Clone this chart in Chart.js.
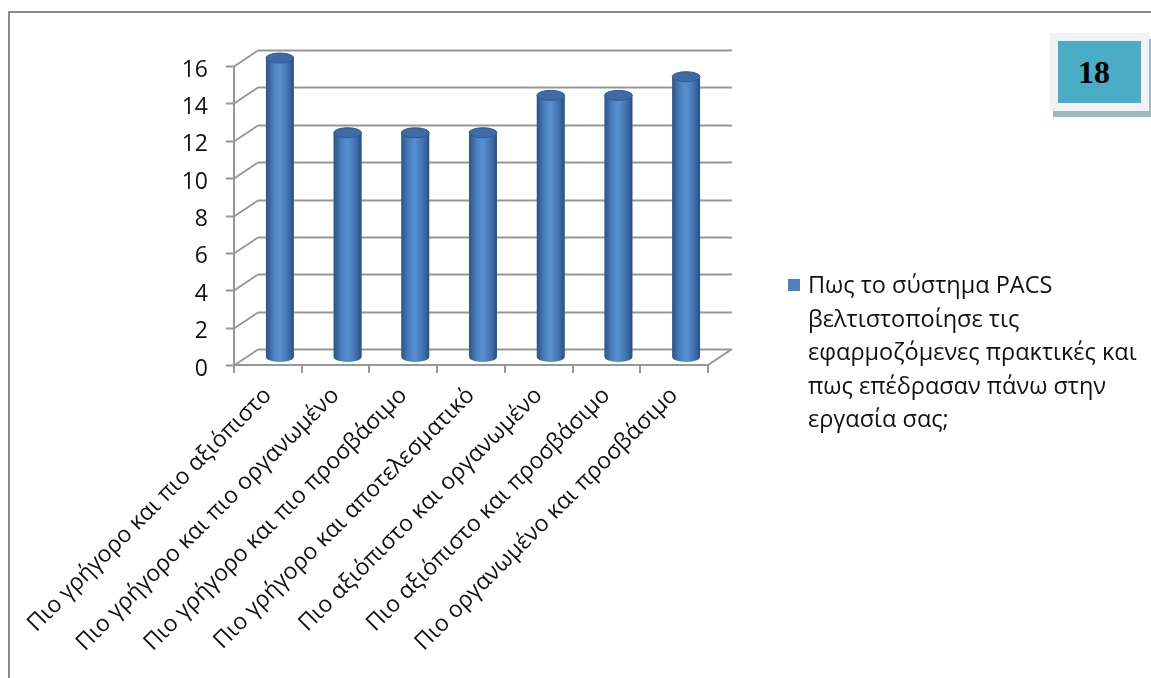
<!DOCTYPE html>
<html lang="el">
<head>
  <meta charset="utf-8">
  <title>PACS – βελτιστοποίηση πρακτικών</title>
  <script src="https://cdn.jsdelivr.net/npm/chart.js@4.4.0/dist/chart.umd.min.js"></script>
  <style>
    body{margin:0;background:#fff;overflow:hidden;}
    #wrap{position:relative;width:1151px;height:678px;}
    #frame{position:absolute;left:8px;top:11px;width:1200px;height:700px;
           border-left:2px solid #8a8a8a;border-top:2px solid #8a8a8a;}
    #badge{position:absolute;left:1050px;top:33px;width:99px;height:78px;
           background:#f2f2f2;box-shadow:3px 6px 0 #9bb8c0;}
    #badge div{position:absolute;left:8px;top:8px;width:83px;height:62px;background:#4bacc6;
           font:bold 32px "Liberation Serif","Times New Roman",serif;color:#000;
           line-height:62px;padding-left:20px;box-sizing:border-box;}
    canvas{position:absolute;left:0;top:0;}
  </style>
</head>
<body>
<div id="wrap">
  <div id="frame"></div>
  <canvas id="chart" width="1151" height="678"></canvas>
  <div id="badge"><div>18</div></div>
</div>

<script>
/* ---------------- data ---------------- */
const categories = [
  'Πιο γρήγορο και πιο αξιόπιστο',
  'Πιο γρήγορο και πιο οργανωμένο',
  'Πιο γρήγορο και πιο προσβάσιμο',
  'Πιο γρήγορο και αποτελεσματικό',
  'Πιο αξιόπιστο και οργανωμένο',
  'Πιο αξιόπιστο και προσβάσιμο',
  'Πιο οργανωμένο και προσβάσιμο'
];
const values = [16, 12, 12, 12, 14, 14, 15];
const yTicks = [0, 2, 4, 6, 8, 10, 12, 14, 16];
const seriesLines = [
  'Πως το σύστημα PACS',
  'βελτιστοποίησε τις',
  'εφαρμοζόμενες πρακτικές και',
  'πως επέδρασαν πάνω στην',
  'εργασία σας;'
];

/* ---------------- look ---------------- */
const FONT = '"Open Sans", "Noto Sans", sans-serif';
const TEXT = '#111';
const GRID = '#979797';
const DX = 24, DY = 16;          // depth of the 3d box

/* grid, side wall and floor drawn from the scales */
const box3d = {
  id: 'box3d',
  beforeDatasetsDraw(chart) {
    const {ctx, chartArea: a, scales: {x, y}} = chart;
    ctx.save();
    ctx.strokeStyle = GRID;
    ctx.lineWidth = 2;
    ctx.beginPath();
    yTicks.forEach(v => {
      const py = Math.round(y.getPixelForValue(v)) + 0.5;
      // back wall line
      ctx.moveTo(a.left + DX, py - DY);
      ctx.lineTo(a.right + DX, py - DY);
      // side wall diagonal
      ctx.moveTo(a.left, py);
      ctx.lineTo(a.left + DX, py - DY);
      // tick on front axis
      ctx.moveTo(a.left - 8, py);
      ctx.lineTo(a.left, py);
    });
    // front axis
    ctx.moveTo(a.left, y.getPixelForValue(yTicks[yTicks.length - 1]));
    ctx.lineTo(a.left, a.bottom);
    // floor front edge + right edge
    ctx.moveTo(a.left, a.bottom);
    ctx.lineTo(a.right, a.bottom);
    ctx.lineTo(a.right + DX, a.bottom - DY);
    // category ticks
    const step = (a.right - a.left) / categories.length;
    for (let i = 0; i <= categories.length; i++) {
      const px = Math.round(a.left + i * step);
      ctx.moveTo(px, a.bottom);
      ctx.lineTo(px, a.bottom + 8);
    }
    ctx.stroke();
    ctx.restore();

    // bars sit half way into the box
    ctx.save();
    ctx.translate(DX / 2, -DY / 2);
  },
  afterDatasetsDraw(chart) {
    const {ctx} = chart;
    chart.getDatasetMeta(0).data.forEach(el => {
      const {x, y, base, width} = el.getProps(['x', 'y', 'base', 'width'], true);
      const rx = width / 2, ry = 5;
      const g = ctx.createLinearGradient(x - rx, 0, x + rx, 0);
      g.addColorStop(0, '#2b5586');
      g.addColorStop(0.3, '#4c82c3');
      g.addColorStop(0.5, '#5890d2');
      g.addColorStop(0.8, '#3f70ad');
      g.addColorStop(1, '#284f80');
      ctx.fillStyle = g;
      ctx.beginPath();
      ctx.moveTo(x - rx, y);
      ctx.lineTo(x - rx, base);
      ctx.ellipse(x, base, rx, ry, 0, Math.PI, 0, true);
      ctx.lineTo(x + rx, y);
      ctx.closePath();
      ctx.fill();
      // top cap
      ctx.beginPath();
      ctx.ellipse(x, y, rx, ry, 0, 0, Math.PI * 2);
      ctx.fillStyle = '#3c6ba6';
      ctx.fill();
      ctx.strokeStyle = '#2f5a8d';
      ctx.lineWidth = 1;
      ctx.stroke();
    });
    ctx.restore();
  },
  afterDraw(chart) {
    // legend on the right
    const {ctx} = chart;
    ctx.save();
    ctx.fillStyle = '#4f81bd';
    ctx.fillRect(788, 279, 12, 12);
    ctx.fillStyle = TEXT;
    ctx.font = '23.5px ' + FONT;
    ctx.textBaseline = 'alphabetic';
    seriesLines.forEach((t, i) => ctx.fillText(t, 808, 293 + i * 33.5));
    ctx.restore();
  }
};

new Chart(document.getElementById('chart'), {
  type: 'bar',
  data: {
    labels: categories,
    datasets: [{
      label: seriesLines.join(' '),
      data: values,
      backgroundColor: '#4f81bd',
      barPercentage: 0.41,
      categoryPercentage: 1,
      clip: false
    }]
  },
  options: {
    responsive: false,
    animation: false,
    layout: {padding: {left: 174, right: 443, top: 66, bottom: 0}},
    plugins: {legend: {display: false}, tooltip: {enabled: false}},
    scales: {
      y: {
        min: 0, max: 16,
        afterBuildTicks: s => { s.ticks = yTicks.map(v => ({value: v})); },
        afterFit: s => { s.width = 60; },
        grid: {display: false, drawTicks: false, tickLength: 0},
        border: {display: false},
        ticks: {padding: 26, labelOffset: 4, color: TEXT, font: {family: FONT, size: 23}}
      },
      x: {
        afterFit: s => { s.height = 313; s.paddingLeft = 0; s.paddingRight = 0; },
        grid: {display: false, drawTicks: false, tickLength: 0},
        border: {display: false},
        ticks: {
          autoSkip: false, maxRotation: 45, minRotation: 45,
          padding: 17, labelOffset: 0,
          color: TEXT, font: {family: FONT, size: 23}
        }
      }
    }
  },
  plugins: [box3d]
});
</script>
</body>
</html>
